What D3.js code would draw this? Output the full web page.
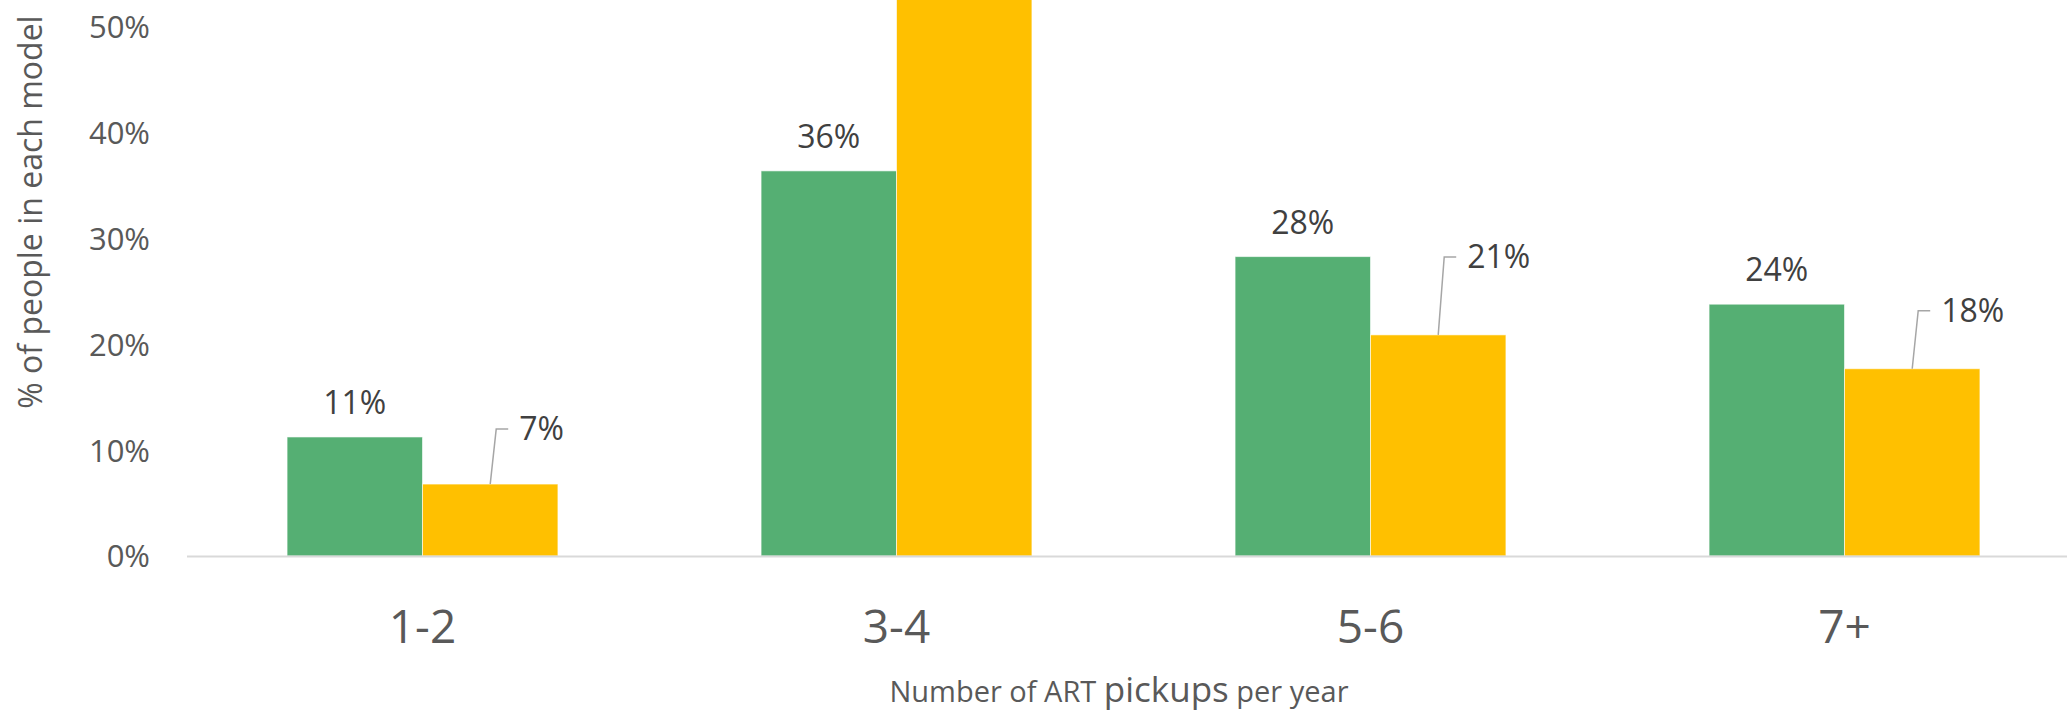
<!DOCTYPE html>
<html lang="en">

<head>
    <meta charset="UTF-8">
    <title>ART pickups per year</title>
    <style>
        body {
            margin: 0;
            background: #fff;
        }

        svg text {
            font-family: "Open Sans", sans-serif;
        }
    </style>
</head>

<body>
    <svg id="chart"></svg>
    <script src="https://cdnjs.cloudflare.com/ajax/libs/d3/7.9.0/d3.min.js"></script>
    <script>
        // Data
        const categories = ["1-2", "3-4", "5-6", "7+"];
        const seriesNames = ["green", "orange"];
        const greenValues = [0.1125, 0.364, 0.283, 0.238];
        const orangeValues = [0.068, 0.546, 0.209, 0.177];
        const yTicks = [0, 0.1, 0.2, 0.3, 0.4, 0.5];

        const w = 2067;
        const h = 712;
        const colors = { green: "#55AF73", orange: "#FFC000" };

        const svg = d3.select("#chart")
            .attr("width", w)
            .attr("height", h);

        // scales
        const x0 = d3.scaleBand()
            .domain(categories)
            .range([185.5, 2081.5]);

        const groupW = x0.bandwidth() * 2 / 3.5;
        const x1 = d3.scaleBand()
            .domain(seriesNames)
            .range([0, groupW]);

        const y = d3.scaleLinear()
            .domain([0, 0.5])
            .range([556, 27]);

        const rows = categories.map((c, i) => ({
            cat: c,
            values: [
                { key: "green", v: greenValues[i] },
                { key: "orange", v: orangeValues[i] }
            ]
        }));

        const groupX = c => x0(c) + (x0.bandwidth() - groupW) / 2;

        // y axis (labels only)
        const yAxis = d3.axisLeft(y)
            .tickValues(yTicks)
            .tickSize(0)
            .tickPadding(0)
            .tickFormat(d3.format(".0%"));

        const gy = svg.append("g")
            .attr("transform", "translate(150,0)")
            .call(yAxis);
        gy.select(".domain").remove();
        gy.selectAll("text")
            .attr("font-size", 31)
            .attr("fill", "#595959")
            .attr("dy", "0.35em")
            .style("font-family", "Open Sans");

        // bars
        const groups = svg.selectAll(".group")
            .data(rows)
            .enter()
            .append("g")
            .attr("class", "group")
            .attr("transform", d => `translate(${groupX(d.cat)},0)`);

        groups.selectAll("rect")
            .data(d => d.values)
            .enter()
            .append("rect")
            .attr("x", d => x1(d.key))
            .attr("y", d => y(d.v))
            .attr("width", x1.bandwidth())
            .attr("height", d => y(0) - y(d.v))
            .attr("fill", d => colors[d.key])
            .attr("stroke", "rgba(255,255,255,0.6)")
            .attr("stroke-width", 1);

        // x axis line + category labels
        const xAxis = d3.axisBottom(x0)
            .tickSize(0)
            .tickPadding(0);

        const gx = svg.append("g")
            .attr("transform", "translate(0,556.5)")
            .call(xAxis);
        gx.select(".domain")
            .attr("stroke", "#d9d9d9")
            .attr("stroke-width", 2)
            .attr("d", "M187,0H2081.5");
        gx.selectAll("text")
            .attr("font-size", 46)
            .attr("fill", "#595959")
            .attr("dy", null)
            .attr("y", 86)
            .style("font-family", "Open Sans");

        // green labels, centred above bars
        const fmt = d3.format(".0%");
        const inView = d => d.v <= y.domain()[1];

        groups.filter(d => inView(d.values[0]))
            .append("text")
            .attr("x", x1("green") + x1.bandwidth() / 2)
            .attr("y", d => y(d.values[0].v) - 23)
            .attr("text-anchor", "middle")
            .attr("font-size", 32)
            .attr("fill", "#404040")
            .text(d => fmt(d.values[0].v));

        // orange labels sit up and to the right, with a leader line
        const lift = [55, 70, 78, 58];
        const ox = x1("orange") + x1.bandwidth() / 2;
        const orangeGroups = groups.filter(d => inView(d.values[1]));

        orangeGroups.append("path")
            .attr("fill", "none")
            .attr("stroke", "#a6a6a6")
            .attr("stroke-width", 1.5)
            .attr("d", d => {
                const i = categories.indexOf(d.cat);
                const top = y(d.values[1].v);
                return `M${ox},${top}L${ox + 6},${top - lift[i]}h12`;
            });

        orangeGroups.append("text")
            .attr("x", ox + 29)
            .attr("y", d => y(d.values[1].v) - lift[categories.indexOf(d.cat)] + 11)
            .attr("font-size", 32)
            .attr("fill", "#404040")
            .text(d => fmt(d.values[1].v));

        // axis titles
        svg.append("text")
            .attr("transform", "translate(42,212) rotate(-90)")
            .attr("text-anchor", "middle")
            .attr("font-size", 32)
            .attr("fill", "#595959")
            .text("% of people in each model");

        const xt = svg.append("text")
            .attr("x", 1119)
            .attr("y", 702)
            .attr("text-anchor", "middle")
            .attr("font-size", 29)
            .attr("fill", "#595959");
        xt.append("tspan").text("Number of ART ");
        xt.append("tspan").attr("font-size", 35).text("pickups");
        xt.append("tspan").text(" per year");
    </script>
</body>

</html>
